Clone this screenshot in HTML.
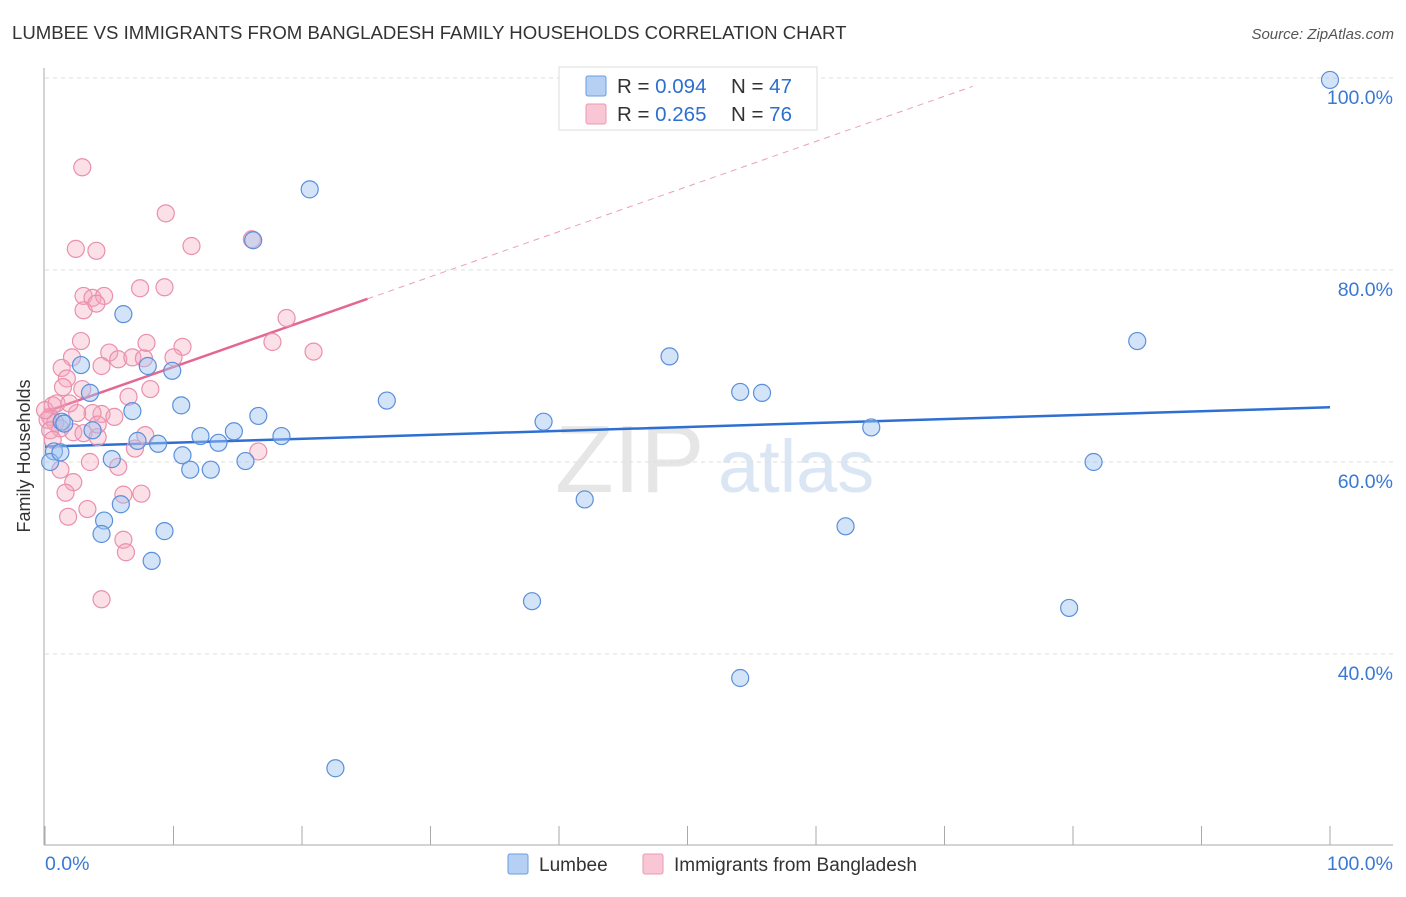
<!DOCTYPE html>
<html><head><meta charset="utf-8"><style>
body{margin:0;background:#fff;font-family:"Liberation Sans",sans-serif;}
svg text{font-family:"Liberation Sans",sans-serif;}
</style></head><body>
<svg width="1406" height="892" xmlns="http://www.w3.org/2000/svg">
<text x="12" y="39" font-size="18.6" fill="#333">LUMBEE VS IMMIGRANTS FROM BANGLADESH FAMILY HOUSEHOLDS CORRELATION CHART</text>
<text x="1394" y="39" font-size="15" fill="#555" font-style="italic" text-anchor="end">Source: ZipAtlas.com</text>
<text x="30" y="456" font-size="18" fill="#333" text-anchor="middle" transform="rotate(-90 30 456)">Family Households</text>
<text x="555" y="492" font-size="96" fill="#e6e6e6" font-family="Liberation Serif">ZIP</text>
<text x="718" y="492" font-size="74" fill="#dbe6f5">atlas</text>
<g id="grid"></g>
<g id="axes"></g>
<g id="lines"></g>
<g id="pts"></g>
<g>
<rect x="559" y="67" width="258" height="63" fill="#fff" stroke="#ddd"/>
<rect x="586" y="76" width="20" height="20" fill="#b5d0f3" stroke="#6a9ee0" rx="2"/>
<rect x="586" y="104" width="20" height="20" fill="#f8c6d4" stroke="#ea9ab2" rx="2"/>
<text x="617" y="93" font-size="20.5" fill="#333">R = <tspan fill="#2d6fd1">0.094</tspan></text>
<text x="731" y="93" font-size="20.5" fill="#333">N = <tspan fill="#2d6fd1">47</tspan></text>
<text x="617" y="121" font-size="20.5" fill="#333">R = <tspan fill="#2d6fd1">0.265</tspan></text>
<text x="731" y="121" font-size="20.5" fill="#333">N = <tspan fill="#2d6fd1">76</tspan></text>
</g>
<g>
<rect x="508" y="854" width="20" height="20" fill="#b5d0f3" stroke="#6a9ee0" rx="2"/>
<text x="539" y="871" font-size="19" fill="#333">Lumbee</text>
<rect x="643" y="854" width="20" height="20" fill="#f8c6d4" stroke="#ea9ab2" rx="2"/>
<text x="674" y="871" font-size="19" fill="#333">Immigrants from Bangladesh</text>
</g>
<text x="45" y="870" font-size="19.5" fill="#3a78d4">0.0%</text>
<text x="1393" y="870" font-size="19.5" fill="#3a78d4" text-anchor="end">100.0%</text>
</svg>
<script>
const blueX=[100,20.6,16.2,6.1,85.0,48.6,2.8,8.0,9.9,54.1,55.8,3.5,26.6,10.6,6.8,16.6,38.8,1.3,3.7,14.7,12.1,18.4,64.3,7.2,8.8,13.5,10.7,0.7,5.2,15.6,11.3,12.9,81.6,0.4,42.0,5.9,4.6,9.3,62.3,4.4,8.3,37.9,79.7,54.1,22.6,1.5,1.2];
const blueY=[99.8,88.4,83.1,75.4,72.6,71.0,70.1,70.0,69.5,67.3,67.2,67.2,66.4,65.9,65.3,64.8,64.2,64.2,63.3,63.2,62.7,62.7,63.6,62.2,61.9,62.0,60.7,61.1,60.3,60.1,59.2,59.2,60.0,60.0,56.1,55.6,53.9,52.8,53.3,52.5,49.7,45.5,44.8,37.5,28.1,64.0,61.0];
const pinkX=[2.9,9.4,2.4,4.0,11.4,16.1,7.4,9.3,3.0,3.7,4.6,3.0,4.0,18.8,17.7,20.9,2.8,7.9,10.7,5.0,5.7,6.8,7.7,10.0,4.4,2.1,1.3,1.7,1.4,2.9,8.2,6.5,4.4,5.4,3.7,2.5,0.6,0.4,0.8,1.2,2.2,3.0,4.1,7.8,7.0,16.6,3.5,5.7,1.2,2.2,1.6,6.1,7.5,3.3,1.8,6.1,6.3,4.4,0.2,0.4,0,0.9,1.9,4.1,0.6];
const pinkY=[90.7,85.9,82.2,82.0,82.5,83.2,78.1,78.2,77.3,77.1,77.3,75.8,76.5,75.0,72.5,71.5,72.6,72.4,72.0,71.4,70.7,70.9,70.8,70.9,70.0,70.9,69.8,68.7,67.8,67.6,67.6,66.8,65.0,64.7,65.1,65.1,65.9,64.7,64.1,63.5,63.1,63.0,62.6,62.8,61.4,61.1,60.0,59.5,59.2,57.9,56.8,56.6,56.7,55.1,54.3,51.9,50.6,45.7,64.4,63.3,65.4,66.1,66.1,63.9,62.3];
const yTicks=[100,80,60,40];
const yTickLabels=["100.0%","80.0%","60.0%","40.0%"];
const blueTrend=[61.6,0.041];   // intercept, slope
const pinkTrend=[65.2,0.47];
const pinkSolidEnd=25.1, pinkDashEnd=72.2;
const NS="http://www.w3.org/2000/svg";
const sx=v=>45+v*12.85, sy=v=>78+(100-v)*9.6;
function mk(tag,attrs,parent){const e=document.createElementNS(NS,tag);for(const k in attrs)e.setAttribute(k,attrs[k]);parent.appendChild(e);return e;}
const grid=document.getElementById('grid');
yTicks.forEach((t,i)=>{
  const l=mk('line',{x1:45,x2:1393,y1:sy(t),y2:sy(t),stroke:'#ddd','stroke-dasharray':'4,4'},grid);
  
  
  const tx=mk('text',{x:1393,y:sy(t)+26,'font-size':19.5,fill:'#3a78d4','text-anchor':'end'},grid);
  tx.textContent=yTickLabels[i];
  
  
});
const ax=document.getElementById('axes');
let a=mk('line',{x1:44,x2:44,y1:68,y2:845,stroke:'#aaa'},ax);


a=mk('line',{x1:44,x2:1393,y1:845,y2:845,stroke:'#aaa'},ax);


for(let i=0;i<=10;i++){const t=mk('line',{x1:sx(i*10),x2:sx(i*10),y1:826,y2:845,stroke:'#aaa'},ax);
  
  }
const lines=document.getElementById('lines');
let ln=mk('line',{x1:sx(0),y1:sy(blueTrend[0]),x2:sx(100),y2:sy(blueTrend[0]+blueTrend[1]*100),stroke:'#2f6fd3','stroke-width':2.5},lines);


ln=mk('line',{x1:sx(0),y1:sy(pinkTrend[0]),x2:sx(pinkSolidEnd),y2:sy(pinkTrend[0]+pinkTrend[1]*pinkSolidEnd),stroke:'#e36790','stroke-width':2.5},lines);


ln=mk('line',{x1:sx(pinkSolidEnd),y1:sy(pinkTrend[0]+pinkTrend[1]*pinkSolidEnd),x2:sx(pinkDashEnd),y2:sy(pinkTrend[0]+pinkTrend[1]*pinkDashEnd),stroke:'#eaa0b8','stroke-width':1,'stroke-dasharray':'6,5'},lines);


const pts=document.getElementById('pts');
pinkX.forEach((x,i)=>{const c=mk('circle',{cx:sx(x),cy:sy(pinkY[i]),r:8.5,fill:'rgba(244,165,190,0.35)',stroke:'#ea8fad','stroke-width':1.2},pts);
  
  });
blueX.forEach((x,i)=>{const c=mk('circle',{cx:sx(x),cy:sy(blueY[i]),r:8.5,fill:'rgba(160,196,240,0.45)',stroke:'#5a8fdb','stroke-width':1.2},pts);
  
  });
</script>
</body></html>
